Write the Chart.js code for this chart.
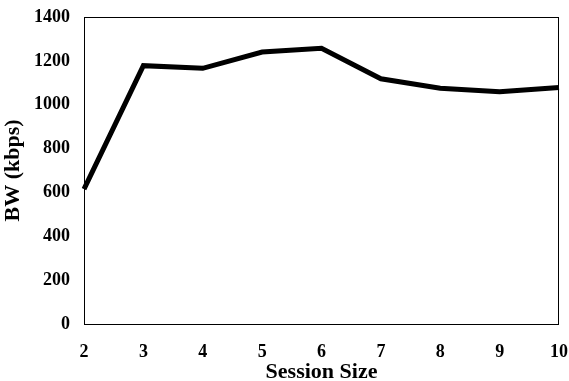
<!DOCTYPE html>
<html>
<head>
<meta charset="utf-8">
<script src="https://cdn.jsdelivr.net/npm/chart.js@4"></script>
<style>
  html, body { margin: 0; padding: 0; background: #fff; }
  #wrap { width: 569px; height: 381px; }
</style>
</head>
<body>
<div id="wrap"><canvas id="chart" width="569" height="381"></canvas></div>
<script>
// data
const sessionSizes = ["2", "3", "4", "5", "6", "7", "8", "9", "10"];
const bandwidth = [615, 1178, 1166, 1240, 1257, 1118, 1075, 1059, 1078];
const yMin = 0, yMax = 1400, yStep = 200;

const serif = "'Liberation Serif', 'Times New Roman', serif";

// box round the plot area
const frame = {
  id: "frame",
  afterDraw(chart) {
    let a = chart.chartArea, ctx = chart.ctx;
    ctx.save();
    ctx.strokeStyle = "#000";
    ctx.lineWidth = 1;
    ctx.strokeRect(Math.round(a.left) + 0.5, Math.round(a.top) + 0.5,
      Math.round(a.right - a.left) - 1, Math.round(a.bottom - a.top));
    ctx.restore();
  }
};

new Chart(document.getElementById("chart"), {
  type: "line",
  data: {
    labels: sessionSizes,
    datasets: [{
      label: "BW",
      data: bandwidth,
      borderColor: "#000",
      borderWidth: 5,
      pointRadius: 0,
      tension: 0,
      fill: false
    }]
  },
  options: {
    responsive: false,
    animation: false,
    layout: { padding: { top: 17, right: 10, left: 0, bottom: 0 } },
    plugins: { legend: { display: false }, tooltip: { enabled: false } },
    scales: {
      x: {
        grid: { display: false, drawTicks: false },
        border: { display: false },
        ticks: {
          color: "#000", padding: 18, maxRotation: 0, autoSkip: false,
          font: { family: serif, size: 18, weight: "bold" }
        },
        title: {
          display: true, text: "Session Size", color: "#000",
          padding: { top: 0, bottom: -5 },
          font: { family: serif, size: 22, weight: "bold" }
        },
        afterFit: s => { s.height = 57; s.paddingLeft = 0; s.paddingRight = 0; }
      },
      y: {
        min: yMin, max: yMax,
        grid: { display: false, drawTicks: false },
        border: { display: false },
        ticks: {
          stepSize: yStep, color: "#000", padding: 14,
          callback: v => String(v),
          font: { family: serif, size: 18, weight: "bold" }
        },
        title: {
          display: true, text: "BW (kbps)", color: "#000",
          padding: { top: 0, bottom: 4 },
          font: { family: serif, size: 22, weight: "bold" }
        },
        afterFit: s => { s.width = 84; s.paddingTop = 0; s.paddingBottom = 0; }
      }
    }
  },
  plugins: [frame]
});
</script>
</body>
</html>
